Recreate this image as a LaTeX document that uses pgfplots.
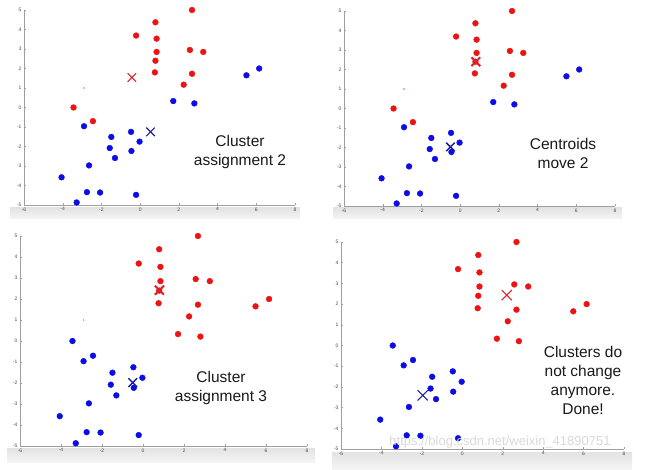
\documentclass[border=0pt]{standalone}
\usepackage{fontspec}
\setmainfont{Liberation Sans}
\usepackage{pgfplots}
\usepackage{pgfplotstable}
\pgfplotsset{compat=1.18}
\definecolor{ptred}{RGB}{238,18,18}
\definecolor{ptblue}{RGB}{12,12,232}
\definecolor{xred}{RGB}{222,32,40}
\definecolor{xblue}{RGB}{32,32,150}
\definecolor{txt}{RGB}{25,25,25}

% initial assignment: red group
\pgfplotstableread{
x y
2.68 5.00
0.79 4.37
-0.21 3.69
0.85 3.53
0.85 2.85
2.57 2.95
3.26 2.85
0.79 2.40
0.76 1.80
2.68 1.73
2.25 1.17
-3.44 0.00
-2.44 -0.70
}\redA
\pgfplotstableread{
x y
1.71 0.33
2.80 0.21
5.49 1.65
6.15 2.00
-2.90 -0.96
-1.49 -1.51
-0.47 -1.25
-1.57 -2.08
-0.03 -1.75
-0.45 -2.23
-1.30 -2.59
-2.64 -2.97
-4.06 -3.58
-2.75 -4.34
-2.07 -4.36
-0.21 -4.48
-3.28 -4.87
}\blueA
% final assignment
\pgfplotstableread{
x y
2.68 5.00
0.79 4.37
-0.21 3.69
0.85 3.53
0.85 2.85
2.57 2.95
3.26 2.85
0.79 2.40
0.76 1.80
2.68 1.73
2.25 1.17
1.71 0.33
2.80 0.21
5.49 1.65
6.15 2.00
}\redB
\pgfplotstableread{
x y
-3.44 0.00
-2.44 -0.70
-2.90 -0.96
-1.49 -1.51
-0.47 -1.25
-1.57 -2.08
-0.03 -1.75
-0.45 -2.23
-1.30 -2.59
-2.64 -2.97
-4.06 -3.58
-2.75 -4.34
-2.07 -4.36
-0.21 -4.48
-3.28 -4.87
}\blueB

\pgfplotsset{
  km/.style={
    scale only axis, anchor=south west,
    xmin=-6, xmax=8, ymin=-5, ymax=5,
    axis x line*=bottom, axis y line*=left,
    axis line style={-, gray!75, line width=0.5pt},
    xtick={-6,-4,...,8}, ytick={-5,-4,...,5},
    tick align=inside, major tick length=1.8pt,
    tick style={gray!75, line width=0.4pt},
    ticklabel style={font=\fontsize{5}{6}\selectfont, text=black!70},
    /pgf/number format/assume math mode=true,
    xticklabel style={yshift=1pt}, yticklabel style={xshift=1pt},
    clip=false,
  },
  rpts/.style={only marks, mark=*, mark size=2.9pt, color=ptred, mark options={draw=ptred, fill=ptred}},
  bpts/.style={only marks, mark=*, mark size=2.9pt, color=ptblue, mark options={draw=ptblue, fill=ptblue}},
  rx/.style 2 args={only marks, mark=x, mark size=#2, color=xred, mark options={line width=#1}},
  bx/.style 2 args={only marks, mark=x, mark size=#2, color=xblue, mark options={line width=#1}},
  spec/.style={only marks, mark=*, mark size=0.5pt, color=ptred!60},
}

\begin{document}
\begin{tikzpicture}
\path[use as bounding box, fill=white] (0,0) rectangle (645pt,469pt);
% grey bands under the x axes
\shade[top color=gray!22, bottom color=gray!8] (10pt,250pt) rectangle (300pt,261pt);
\shade[top color=gray!22, bottom color=gray!8] (333pt,250pt) rectangle (622pt,261pt);
\shade[top color=gray!22, bottom color=gray!8] (7pt,7pt) rectangle (315pt,21pt);
\shade[top color=gray!22, bottom color=gray!8] (332pt,0pt) rectangle (632pt,17pt);

% Panel 1
\begin{axis}[km, at={(24pt,264pt)}, width=271pt, height=195pt]
\addplot[spec] coordinates {(-2.9,1.0)};
\addplot[rpts] table {\redA};
\addplot[bpts] table {\blueA};
\addplot[rx={1.1pt}{6pt}] coordinates {(-0.43,1.54)};
\addplot[bx={1.1pt}{6pt}] coordinates {(0.54,-1.25)};
\end{axis}
\node[font=\fontsize{15.5}{19}\selectfont, align=center, text=txt] at (240pt,317pt) {Cluster\\assignment 2};

% Panel 2
\begin{axis}[km, at={(344pt,263pt)}, width=271pt, height=195pt]
\addplot[spec] coordinates {(-2.9,1.0)};
\addplot[rpts] table {\redA};
\addplot[bpts] table {\blueA};
\addplot[rx={2pt}{6.2pt}] coordinates {(0.81,2.40)};
\addplot[bx={1.5pt}{6pt}] coordinates {(-0.50,-1.97)};
\end{axis}
\node[font=\fontsize{15.5}{19}\selectfont, align=center, text=txt] at (563pt,316pt) {Centroids\\move 2};

% Panel 3
\begin{axis}[km, at={(20pt,23pt)}, width=287pt, height=210pt]
\addplot[spec] coordinates {(-2.9,1.0)};
\addplot[rpts] table {\redB};
\addplot[bpts] table {\blueB};
\addplot[rx={2pt}{6.4pt}] coordinates {(0.80,2.42)};
\addplot[bx={1.5pt}{6.2pt}] coordinates {(-0.50,-1.98)};
\end{axis}
\node[font=\fontsize{15.5}{19}\selectfont, align=center, text=txt] at (221pt,81pt) {Cluster\\assignment 3};

% Panel 4
\begin{axis}[km, at={(341pt,20pt)}, width=283pt, height=207pt]
\addplot[rpts] table {\redB};
\addplot[bpts] table {\blueB};
\addplot[rx={1.1pt}{7.2pt}] coordinates {(2.20,2.43)};
\addplot[bx={1.1pt}{7.2pt}] coordinates {(-1.96,-2.41)};
\end{axis}
\node[font=\fontsize{15.5}{19}\selectfont, align=center, text=txt] at (583pt,89pt) {Clusters do\\not change\\anymore.\\Done!};
\node[font=\fontsize{13}{15}\selectfont, text=gray!30] at (500pt,27pt) {https://blog.csdn.net/weixin\_41890751};
\end{tikzpicture}
\end{document}
